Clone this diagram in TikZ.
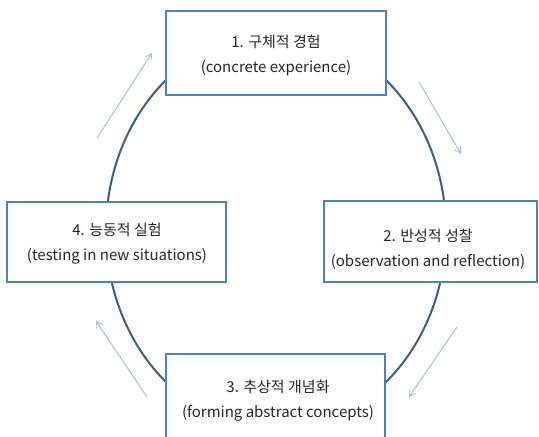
\documentclass[tikz,border=0pt]{standalone}
\usepackage{fontspec}
\setmainfont{Noto Sans CJK KR}
\usetikzlibrary{arrows.meta}
\definecolor{boxblue}{RGB}{79,129,189}
\definecolor{ringblue}{RGB}{62,92,135}
\definecolor{arrblue}{RGB}{160,187,220}
\tikzset{
  stagebox/.style={draw=boxblue, line width=1.6pt, fill=white},
  stagetext/.style={align=center, font=\fontsize{15}{25}\selectfont, text=black!85, inner sep=0pt},
  ring/.style={draw=ringblue, line width=2pt},
  flow/.style={draw=arrblue, line width=0.9pt, -{Straight Barb[length=6pt,width=7pt]}}
}
\begin{document}
\begin{tikzpicture}[x=1pt,y=-1pt]
\useasboundingbox (0,0) rectangle (539,437);
\clip (0,0) rectangle (539,437);
\fill[white] (0,0) rectangle (539,437);
% ring
\draw[ring] (276,231) ellipse [x radius=170, y radius=198];
% boxes
\draw[stagebox] (166,11) rectangle (386,95);
\node[stagetext] (t1) at (276,55) {1. 구체적 경험\\(concrete experience)};
\draw[stagebox] (324,201) rectangle (537,282);
\node[stagetext] (t2) at (428,249.5) {2. 반성적 성찰\\(observation and reflection)};
\draw[stagebox] (166,354) rectangle (385,470);
\node[stagetext] (t3) at (278,401) {3. 추상적 개념화\\(forming abstract concepts)};
\draw[stagebox] (7,202) rectangle (226,282);
\node[stagetext] (t4) at (117,244) {4. 능동적 실험\\(testing in new situations)};
% flow arrows
\coordinate (a1s) at (97,138);  \coordinate (a1e) at (152,53);
\coordinate (a2s) at (419,82);  \coordinate (a2e) at (461,154);
\coordinate (a3s) at (457,327); \coordinate (a3e) at (409,397);
\coordinate (a4s) at (147,397); \coordinate (a4e) at (96,321);
\draw[flow] (a1s) -- (a1e);
\draw[flow] (a2s) -- (a2e);
\draw[flow] (a3s) -- (a3e);
\draw[flow] (a4s) -- (a4e);
\end{tikzpicture}
\end{document}
